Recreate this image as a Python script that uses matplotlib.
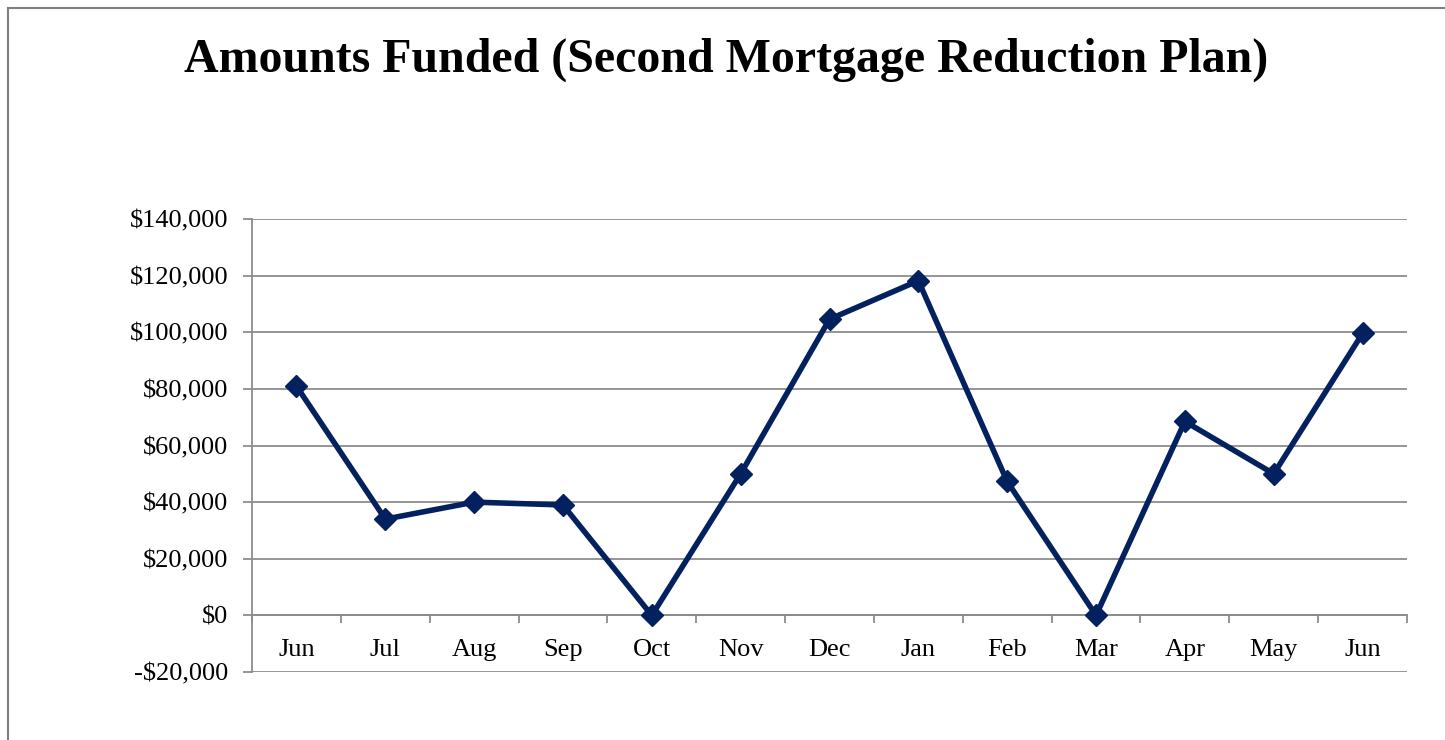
import matplotlib
matplotlib.use("Agg")
import matplotlib.pyplot as plt
from matplotlib.ticker import FuncFormatter, FixedLocator
from matplotlib.lines import Line2D

months = ["Jun", "Jul", "Aug", "Sep", "Oct", "Nov", "Dec", "Jan", "Feb", "Mar", "Apr", "May", "Jun"]
amounts = [81000, 34000, 40000, 39000, 0, 50000, 104600, 118200, 47300, 0, 68500, 50000, 99600]
y_ticks = [-20000, 0, 20000, 40000, 60000, 80000, 100000, 120000, 140000]
title = "Amounts Funded (Second Mortgage Reduction Plan)"

plt.rcParams['font.family'] = ['Liberation Serif', 'DejaVu Serif']

W, H = 1445, 740
fig = plt.figure(figsize=(W / 100, H / 100), dpi=100)
ax = fig.add_axes([252 / W, 1 - 672 / H, (1407 - 252) / W, (672 - 219) / H])

grid_c = "#8c8c8c"
line_c = "#03215e"

x = list(range(len(months)))
ax.plot(x, amounts, color=line_c, lw=4.0, marker='D', markersize=11,
        markerfacecolor=line_c, markeredgecolor=line_c, zorder=5, clip_on=False)

ax.set_xlim(-0.5, len(months) - 0.5)
ax.set_ylim(y_ticks[0], y_ticks[-1])
ax.set_yticks(y_ticks)


def fmt(v, pos):
    v = int(round(v))
    if v < 0:
        return "-${:,}".format(-v)
    return "${:,}".format(v)


ax.yaxis.set_major_formatter(FuncFormatter(fmt))
ax.yaxis.grid(True, color=grid_c, lw=1.3)
ax.set_axisbelow(True)

ax.set_xticks(x)
ax.set_xticklabels(months)
ax.xaxis.set_minor_locator(FixedLocator([i - 0.5 for i in range(len(months) + 1)]))

for s in ["top", "right"]:
    ax.spines[s].set_visible(False)
ax.spines["bottom"].set_position(("data", 0))
ax.spines["bottom"].set_color(grid_c)
ax.spines["bottom"].set_linewidth(1.3)
ax.spines["left"].set_color(grid_c)
ax.spines["left"].set_linewidth(1.3)

ax.tick_params(axis='y', length=6.5, width=1.3, color=grid_c, labelsize=19, pad=10.5)
ax.tick_params(axis='x', which='major', length=0, labelsize=19, pad=17)
ax.tick_params(axis='x', which='minor', length=6, width=1.3, color=grid_c, direction='out')

fig.text(726 / W, 1 - 60 / H, title, ha='center', va='center',
         fontsize=34.5, fontweight='bold')

# outer chart border (left and top visible)
fig.add_artist(Line2D([7.5 / W, 7.5 / W], [0, 1 - 7.5 / H], transform=fig.transFigure,
                      color="#808080", lw=1.5))
fig.add_artist(Line2D([7.5 / W, 1], [1 - 7.5 / H, 1 - 7.5 / H], transform=fig.transFigure,
                      color="#808080", lw=1.5))

fig.savefig("out.png", dpi=100, facecolor="white")
